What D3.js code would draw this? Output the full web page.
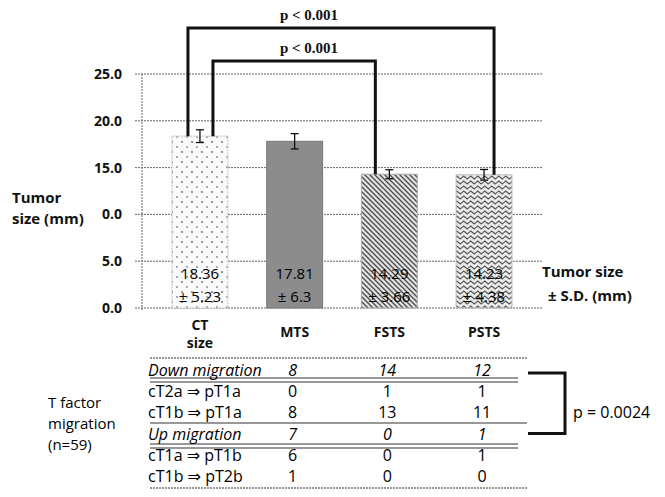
<!DOCTYPE html>
<html lang="en">
<meta charset="utf-8"/>
<head>
</head>
<body>
<svg id="container" width="665" height="497"></svg>
</body>
<style>
	body {
		margin: 0;
		background-color: #FFFFFF;
	}
	* {
		font-family: "Open Sans", "DejaVu Sans", sans-serif;
	}
	.grid line {
		stroke: #666;
		stroke-width: 1;
		stroke-dasharray: 2,1;
	}
	.lab {
		font-size: 15px;
		font-weight: bold;
		fill: #111;
	}
	.ptext {
		font-family: "Liberation Serif", serif;
		font-size: 15px;
		font-weight: bold;
		fill: #111;
	}
	.cell {
		font-size: 16px;
		fill: #000;
	}
</style>
<script src="https://d3js.org/d3.v7.min.js"></script>
<script>
	// bar chart values
	let categories = ["CT size", "MTS", "FSTS", "PSTS"]
	let means = [18.36, 17.81, 14.29, 14.23]
	let sds = [5.23, 6.3, 3.66, 4.38]
	let errs = [0.68, 0.82, 0.48, 0.57]   // error bar half length
	let tickValues = [0, 5, 10, 15, 20, 25]
	let tickLabels = ["0.0", "5.0", "0.0", "15.0", "20.0", "25.0"]   // as printed

	// table under the chart
	let rowLabels = ["Down migration", "cT2a \u21D2 pT1a", "cT1b \u21D2 pT1a", "Up migration", "cT1a \u21D2 pT1b", "cT1b \u21D2 pT2b"]
	let rowItalic = [true, false, false, true, false, false]
	let mtsCounts = [8, 0, 8, 7, 6, 1]
	let fstsCounts = [14, 1, 13, 0, 0, 0]
	let pstsCounts = [12, 1, 11, 1, 1, 0]

	let svg = d3.select("svg")

	let yScale = d3.scaleLinear()
		.domain([0, 25])
		.range([308, 74])

	let xScale = d3.scaleBand()
		.domain(categories)
		.range([152.6, 531.4])
		.paddingInner(0.41)
		.paddingOuter(0.205)

	let cx = (i) => xScale(categories[i]) + xScale.bandwidth() / 2

	// patterns
	let defs = svg.append("defs")
	let pDots = defs.append("pattern").attr("id", "dots")
		.attr("patternUnits", "userSpaceOnUse").attr("width", 10).attr("height", 10)
	pDots.append("rect").attr("width", 10).attr("height", 10).attr("fill", "#fbfbfb")
	pDots.append("circle").attr("cx", 2).attr("cy", 2).attr("r", 0.9).attr("fill", "#666")
	pDots.append("circle").attr("cx", 7).attr("cy", 7).attr("r", 0.9).attr("fill", "#888")

	let pDiag = defs.append("pattern").attr("id", "diag")
		.attr("patternUnits", "userSpaceOnUse").attr("width", 5).attr("height", 5)
	pDiag.append("rect").attr("width", 5).attr("height", 5).attr("fill", "#e2e2e2")
	pDiag.append("path").attr("d", "M-1,-1 L6,6 M-1,4 L1,6 M4,-1 L6,1")
		.attr("stroke", "#4a4a4a").attr("stroke-width", 1.3)

	let pWave = defs.append("pattern").attr("id", "wave")
		.attr("patternUnits", "userSpaceOnUse").attr("width", 7).attr("height", 5)
	pWave.append("rect").attr("width", 7).attr("height", 5).attr("fill", "#ececec")
	pWave.append("path").attr("d", "M0,2.5 L1.75,1 L3.5,2.5 L5.25,4 L7,2.5")
		.attr("fill", "none").attr("stroke", "#555").attr("stroke-width", 1.1)

	let fills = ["url(#dots)", "#8c8c8c", "url(#diag)", "url(#wave)"]
	let strokes = ["#bdbdbd", "#777", "#aaa", "#bbb"]

	// grid
	svg.append("g")
		.attr("class", "grid")
		.selectAll("line")
		.data(tickValues)
		.enter()
		.append("line")
		.attr("x1", 135)
		.attr("x2", 543)
		.attr("y1", d => yScale(d))
		.attr("y2", d => yScale(d))

	svg.append("g")
		.attr("class", "grid")
		.append("line")
		.attr("x1", 142).attr("x2", 142)
		.attr("y1", yScale(25)).attr("y2", yScale(0) + 3)

	svg.selectAll(".ytick")
		.data(tickValues)
		.enter()
		.append("text")
		.attr("class", "lab ytick")
		.attr("x", 122)
		.attr("y", d => yScale(d) + 5)
		.attr("text-anchor", "end")
		.style("font-size", "14px")
		.text((d, i) => tickLabels[i])

	// bars
	svg.selectAll(".bar")
		.data(means)
		.enter()
		.append("rect")
		.attr("class", "bar")
		.attr("x", (d, i) => xScale(categories[i]))
		.attr("width", xScale.bandwidth())
		.attr("y", d => yScale(d))
		.attr("height", d => yScale(0) - yScale(d))
		.attr("fill", (d, i) => fills[i])
		.attr("stroke", (d, i) => strokes[i])
		.attr("stroke-width", 1)
		.attr("stroke-dasharray", (d, i) => i == 0 ? "2,1" : null)

	// error bars
	let eb = svg.append("g").attr("stroke", "#111").attr("stroke-width", 1.3)
	means.forEach((m, i) => {
		let x = cx(i)
		eb.append("line").attr("x1", x).attr("x2", x).attr("y1", yScale(m + errs[i])).attr("y2", yScale(m - errs[i]))
		eb.append("line").attr("x1", x - 4).attr("x2", x + 4).attr("y1", yScale(m + errs[i])).attr("y2", yScale(m + errs[i]))
		eb.append("line").attr("x1", x - 4).attr("x2", x + 4).attr("y1", yScale(m - errs[i])).attr("y2", yScale(m - errs[i]))
	})

	// value labels inside bars
	svg.selectAll(".mlab")
		.data(means)
		.enter()
		.append("text")
		.attr("class", "cell")
		.attr("x", (d, i) => cx(i))
		.attr("y", 279)
		.attr("text-anchor", "middle")
		.style("font-size", "15px")
		.text(d => d.toFixed(2))
	svg.selectAll(".slab")
		.data(sds)
		.enter()
		.append("text")
		.attr("class", "cell")
		.attr("x", (d, i) => cx(i))
		.attr("y", 302)
		.attr("text-anchor", "middle")
		.style("font-size", "15px")
		.text(d => "\u00B1 " + d)

	// x labels
	categories.forEach((c, i) => {
		let t = svg.append("text").attr("class", "lab").attr("text-anchor", "middle")
			.style("font-size", "14px")
		if (c == "CT size") {
			t.append("tspan").attr("x", cx(i)).attr("y", 330).text("CT")
			t.append("tspan").attr("x", cx(i)).attr("y", 348).text("size")
		} else {
			t.attr("x", cx(i)).attr("y", 337).text(c)
		}
	})

	// axis titles
	svg.append("text").attr("class", "lab").attr("x", 12).attr("y", 203).text("Tumor")
	svg.append("text").attr("class", "lab").attr("x", 12).attr("y", 224).text("size (mm)")
	svg.append("text").attr("class", "lab").attr("x", 542).attr("y", 277).text("Tumor size")
	svg.append("text").attr("class", "lab").attr("x", 548).attr("y", 301).text("\u00B1 S.D. (mm)")

	// significance brackets
	let brackets = [
		{ a: 0, da: -12, b: 3, db: 10, y: 28, label: "p < 0.001", ty: 20 },
		{ a: 0, da: 13, b: 2, db: -14, y: 61, label: "p < 0.001", ty: 53 }
	]
	brackets.forEach(br => {
		let x1 = cx(br.a) + br.da
		let x2 = cx(br.b) + br.db
		svg.append("path")
			.attr("d", "M" + x1 + "," + yScale(means[br.a]) + " L" + x1 + "," + br.y + " L" + x2 + "," + br.y + " L" + x2 + "," + yScale(means[br.b]))
			.attr("fill", "none")
			.attr("stroke", "#111")
			.attr("stroke-width", 3)
		svg.append("text").attr("class", "ptext").attr("x", 309).attr("y", br.ty)
			.attr("text-anchor", "middle").text(br.label)
	})

	// table
	let rowScale = d3.scalePoint()
		.domain(rowLabels)
		.range([371, 477])

	let tl = svg.append("g").attr("stroke", "#333").attr("stroke-width", 1.2)
	let hline = (y, x2, dash) => tl.append("line").attr("x1", 150).attr("x2", x2).attr("y1", y).attr("y2", y)
		.attr("stroke-dasharray", dash ? "2,1" : null)
	hline(358, 527, true)
	hline(378, 518)
	hline(382, 518)
	hline(423, 527)
	hline(444, 518)
	hline(448, 518)
	hline(488, 527, true)

	let rows = svg.selectAll(".row")
		.data(rowLabels)
		.enter()
		.append("g")
		.attr("transform", d => "translate(0," + (rowScale(d) + 5) + ")")
	rows.append("text").attr("class", "cell").attr("x", 148)
		.style("font-style", (d, i) => rowItalic[i] ? "italic" : null)
		.text(d => d)
	let countCols = [mtsCounts, fstsCounts, pstsCounts]
	countCols.forEach((col, j) => {
		rows.append("text").attr("class", "cell")
			.attr("x", cx(j + 1) - 2)
			.attr("text-anchor", "middle")
			.style("font-style", (d, i) => rowItalic[i] ? "italic" : null)
			.text((d, i) => col[i])
	})

	// left title for table
	let leftTitle = ["T factor", "migration", "(n=59)"]
	svg.selectAll(".ltitle")
		.data(leftTitle)
		.enter()
		.append("text")
		.attr("class", "cell")
		.attr("x", 48)
		.attr("y", (d, i) => 408 + i * 21)
		.style("font-size", "15px")
		.text(d => d)

	// right bracket
	svg.append("path")
		.attr("d", "M528," + (rowScale(rowLabels[0]) + 2) + " L565," + (rowScale(rowLabels[0]) + 2) + " L565," + (rowScale(rowLabels[3]) - 1) + " L528," + (rowScale(rowLabels[3]) - 1))
		.attr("fill", "none").attr("stroke", "#111").attr("stroke-width", 3)
	svg.append("text").attr("class", "cell").attr("x", 573).attr("y", 418).text("p = 0.0024")
</script>
</html>
